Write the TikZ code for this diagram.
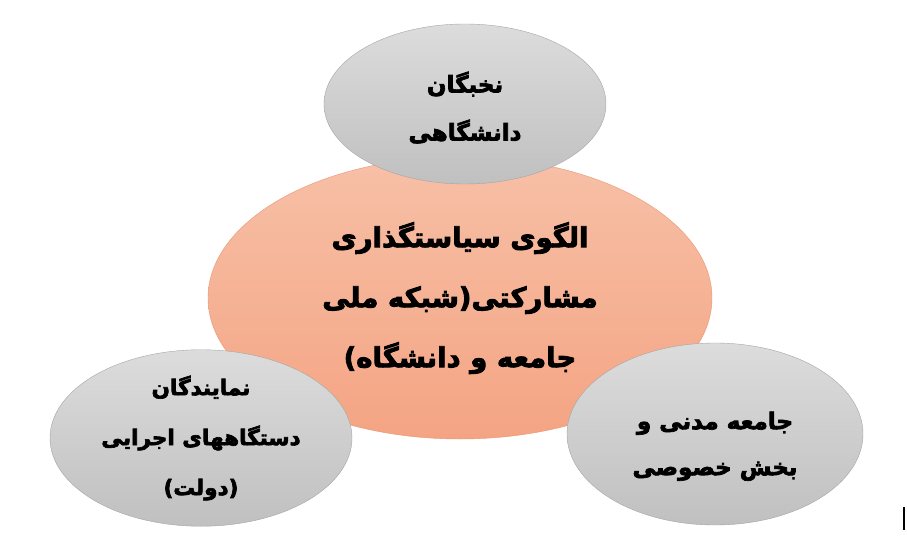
\documentclass[tikz,border=0pt]{standalone}
\usepackage{fontspec}
\TeXXeTstate=1
\newfontfamily\farsi[Script=Arabic,FakeBold=3]{DejaVu Sans Bold}
\newcommand{\rl}[1]{\beginR#1\endR}
\definecolor{salmontop}{RGB}{247,192,167}
\definecolor{salmonbot}{RGB}{244,164,131}
\definecolor{salmonline}{RGB}{232,150,115}
\definecolor{greytop}{RGB}{220,220,220}
\definecolor{greybot}{RGB}{192,192,192}
\definecolor{greyline}{RGB}{165,165,165}
\tikzset{
  hub/.style={ellipse, draw=salmonline, top color=salmontop, bottom color=salmonbot,
    minimum width=504pt, minimum height=282pt, inner sep=0pt, align=center,
    font=\farsi\fontsize{27.5}{60}\selectfont},
  spoke/.style={ellipse, draw=greyline, top color=greytop, bottom color=greybot,
    minimum width=282pt, minimum height=160pt, inner sep=0pt, align=center,
    font=\farsi\fontsize{23}{48}\selectfont}
}
\usetikzlibrary{shapes.geometric,positioning}

\begin{document}
\begin{tikzpicture}[x=1pt,y=-1pt]
  \useasboundingbox (0,0) rectangle (907,537);
  \node[hub] (c) at (460,298) {\rl{الگوی سیاستگذاری}\\\rl{مشارکتی(شبکه ملی}\\\rl{جامعه و دانشگاه)}};
  \node[spoke] (a1) at (465,104) {\rule{0pt}{28pt}\rl{نخبگان}\\\rl{دانشگاهی}};
  \node[spoke, minimum width=302pt, minimum height=174pt,
    font=\farsi\fontsize{21.5}{50}\selectfont] (a2) at (201,438) {\rl{نمایندگان}\\\rl{دستگاههای اجرایی}\\\rl{(دولت)}};
  \node[spoke, minimum width=296pt, minimum height=182pt,
    font=\farsi\fontsize{23}{46}\selectfont] (a3) at (715,434) {\rule{0pt}{42pt}\rl{جامعه مدنی و}\\\rl{بخش خصوصی}};
  \draw[line width=1.5pt] (904,507) -- (904,530);
\end{tikzpicture}
\end{document}
